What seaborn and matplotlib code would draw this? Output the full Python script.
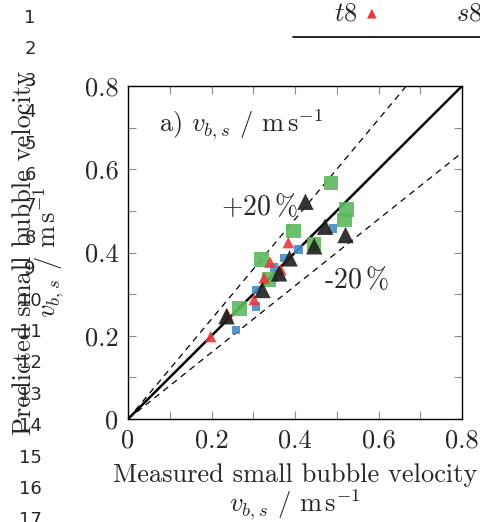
import numpy as np
import pandas as pd
import seaborn as sns
import matplotlib.pyplot as plt
from matplotlib.lines import Line2D

# measured / predicted small bubble velocity (m/s), per series
green_meas = [0.486, 0.524, 0.519, 0.396, 0.445, 0.320, 0.338, 0.267]
green_pred = [0.567, 0.504, 0.478, 0.452, 0.420, 0.383, 0.335, 0.265]
blue_meas = [0.491, 0.408, 0.373, 0.349, 0.349, 0.307, 0.307, 0.258]
blue_pred = [0.458, 0.407, 0.387, 0.364, 0.338, 0.310, 0.270, 0.214]
red_meas = [0.384, 0.340, 0.366, 0.326, 0.302, 0.238, 0.198]
red_pred = [0.424, 0.377, 0.359, 0.339, 0.287, 0.251, 0.198]
black_meas = [0.425, 0.472, 0.521, 0.446, 0.387, 0.362, 0.322, 0.236]
black_pred = [0.522, 0.462, 0.442, 0.415, 0.386, 0.350, 0.310, 0.247]

ref_x = [0.0, 0.8]
ref_factors = [1.0, 1.2, 0.8]
tick_vals = [0, 0.2, 0.4, 0.6, 0.8]
tick_labels = ['0', '0.2', '0.4', '0.6', '0.8']
minor_vals = [0.1, 0.3, 0.5, 0.7]
line_numbers = list(range(1, 18))

sns.set_theme(style='ticks')
plt.rcParams['font.family'] = 'serif'
plt.rcParams['font.serif'] = ['cmr10']
plt.rcParams['mathtext.fontset'] = 'cm'
plt.rcParams['axes.formatter.use_mathtext'] = True

fig = plt.figure(figsize=(4.8, 5.22), dpi=100)
ax = fig.add_axes([0.2667, 0.1973, 0.6958, 0.6379])

# reference lines
for f in ref_factors:
    ref = pd.DataFrame({'x': ref_x, 'y': [v * f for v in ref_x]})
    sns.lineplot(data=ref, x='x', y='y', ax=ax, color='black',
                 lw=1.8 if f == 1.0 else 0.9, ls='-' if f == 1.0 else (0, (5, 4)),
                 zorder=2)

series = [
    (blue_meas, blue_pred, 's', 36, '#4a8bc4'),
    (green_meas, green_pred, 's', 110, '#5cb85c'),
    (red_meas, red_pred, '^', 70, '#e83a3d'),
    (black_meas, black_pred, '^', 140, '#1e1e1e'),
]
for i, (mx, my, mk, sz, col) in enumerate(series):
    d = pd.DataFrame({'m': mx, 'p': my})
    sns.scatterplot(data=d, x='m', y='p', ax=ax, marker=mk, s=sz, color=col,
                    edgecolor='none', alpha=0.9, zorder=3 + i)

ax.set_xlim(0, 0.8)
ax.set_ylim(0, 0.8)
ax.set_xticks(tick_vals)
ax.set_yticks(tick_vals)
ax.set_xticklabels(tick_labels, fontfamily='cmr10', fontsize=19)
ax.set_yticklabels(tick_labels, fontfamily='cmr10', fontsize=19)
ax.set_xticks(minor_vals, minor=True)
ax.set_yticks(minor_vals, minor=True)
ax.tick_params(which='both', direction='in', top=True, right=True, length=6,
               width=0.8, color='0.55', pad=7)
for s in ax.spines.values():
    s.set_linewidth(1.0)
    s.set_color('black')

ax.set_xlabel('Measured small bubble velocity\n$v_{b,s}$ / $\\mathrm{m\\,s^{-1}}$',
              fontsize=19, linespacing=1.0, labelpad=8)
ax.set_ylabel('Predicted small bubble velocity\n$v_{b,s}$ / $\\mathrm{m\\,s^{-1}}$',
              fontsize=19, linespacing=0.85, labelpad=13)

ax.text(0.075, 0.706, 'a) $v_{b,s}$ / $\\mathrm{m\\,s^{-1}}$', fontsize=19, va='center')
ax.text(0.222, 0.51, '+20$\\,$%', fontsize=20, va='center')
ax.text(0.47, 0.333, '-20$\\,$%', fontsize=20, va='center')

# cut-off legend at the top
fig.text(346 / 480, 1 - 14 / 522, '$t8$', fontsize=19, ha='center', va='center')
fig.text(372 / 480, 1 - 13 / 522, '\u25b2', color='#e83a3d', fontsize=9,
         ha='center', va='center', family='DejaVu Sans')
fig.text(469 / 480, 1 - 14 / 522, '$s8$', fontsize=19, ha='center', va='center')
fig.add_artist(Line2D([293 / 480, 1.0], [1 - 37 / 522, 1 - 37 / 522],
                      color='black', lw=1.2, transform=fig.transFigure))

# line numbers down the left margin
for i, n in enumerate(line_numbers):
    fig.text(30 / 480, 1 - (18 + i * 31.4) / 522, str(n), fontsize=13,
             ha='center', va='center', family='DejaVu Sans')

fig.savefig('out.png', dpi=100)
